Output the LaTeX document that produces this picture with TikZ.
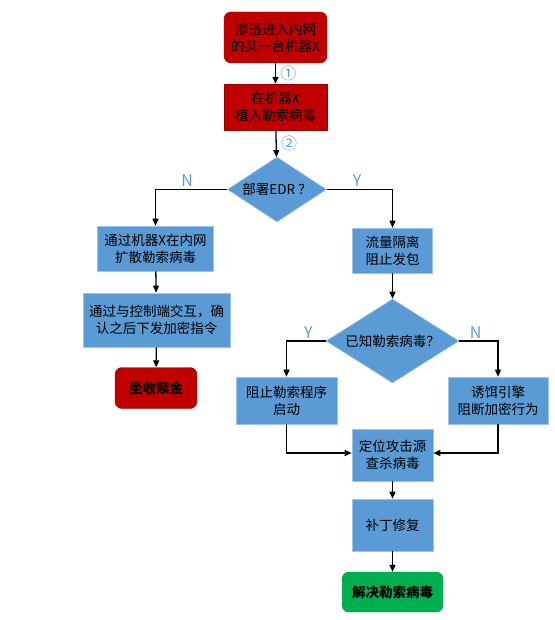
\documentclass[tikz,border=0pt]{standalone}
\usepackage{fontspec}
\setmainfont{Noto Sans CJK SC}
\usetikzlibrary{arrows.meta, positioning, shapes.geometric}

\definecolor{attackred}{HTML}{C00000}
\definecolor{procblue}{HTML}{5B9BD5}
\definecolor{edgeblue}{HTML}{9DC3E6}
\definecolor{okgreen}{HTML}{00B050}
\definecolor{tagblue}{HTML}{5B9BD5}

\begin{document}
\begin{tikzpicture}[
    x=1pt, y=-1pt,
    >={Triangle[length=7pt, width=6pt]},
    txt/.style={font=\fontsize{13.5}{17}\selectfont, align=center},
    proc/.style={txt, draw=edgeblue, line width=0.6pt, fill=procblue,
                 inner sep=0pt},
    attack/.style={txt, draw=attackred!80!black, fill=attackred,
                   inner sep=0pt},
    endbox/.style={txt, rounded corners=7pt, inner sep=0pt,
                   font=\fontsize{13.5}{17}\selectfont\bfseries},
    decision/.style={txt, diamond, draw=edgeblue, line width=0.6pt,
                     fill=procblue, inner sep=0pt},
    tag/.style={font=\fontsize{16}{18}\selectfont, text=tagblue},
    flow/.style={->, line width=1.3pt}
  ]
  \useasboundingbox (0,0) rectangle (554,620);

  % Attack steps
  \node[attack, rounded corners=7pt, minimum width=103pt,
        minimum height=51pt] (enter) at (275.5, 37.5)
        {渗透进入内网\\的某一台机器X};
  \node[attack, minimum width=103pt, minimum height=46pt]
        (plant) at (275.5, 107) {在机器X\\植入勒索病毒};

  % First decision
  \node[decision, minimum width=99pt, minimum height=65pt]
        (edr) at (277, 189.5) {\makebox[0pt]{部署EDR ？}};

  % No EDR branch
  \node[proc, minimum width=116pt, minimum height=45pt]
        (spread) at (155.5, 248.5) {通过机器X在内网\\扩散勒索病毒};
  \node[proc, minimum width=147pt, minimum height=54pt]
        (order) at (156.5, 320) {通过与控制端交互，确\\认之后下发加密指令};
  \node[endbox, fill=attackred, draw=attackred!80!black,
        minimum width=82pt, minimum height=41pt]
        (ransom) at (156, 388) {坐收赎金};

  % EDR branch
  \node[proc, minimum width=80pt, minimum height=45pt]
        (isolate) at (392.5, 250.5) {流量隔离\\阻止发包};
  \node[decision, minimum width=133pt, minimum height=84pt]
        (known) at (392.5, 341) {\makebox[0pt]{已知勒索病毒？}};
  \node[proc, minimum width=101pt, minimum height=47pt]
        (block) at (286.5, 400.5) {阻止勒索程序\\启动};
  \node[proc, minimum width=100pt, minimum height=47pt]
        (bait) at (498, 400.5) {诱饵引擎\\阻断加密行为};
  \node[proc, minimum width=81pt, minimum height=52pt]
        (locate) at (392.5, 455) {定位攻击源\\查杀病毒};
  \node[proc, minimum width=81pt, minimum height=52pt]
        (patch) at (392.5, 525) {补丁修复};
  \node[endbox, fill=okgreen, draw=okgreen!80!black,
        minimum width=101pt, minimum height=40pt]
        (solve) at (392.5, 592) {解决勒索病毒};

  % Connectors
  \draw[flow] (enter) -- (plant)
    node[tag, midway, right, xshift=1pt] {①};
  \draw[flow] (plant) -- (edr)
    node[tag, midway, right, xshift=1pt] {②};
  \draw[flow] (edr.west) -| (spread.north)
    node[tag, pos=0.28, above, yshift=-1pt] {N};
  \draw[flow] (edr.east) -| (isolate.north)
    node[tag, pos=0.23, above, yshift=-1pt] {Y};
  \draw[flow] (spread) -- (order);
  \draw[flow] (order) -- (ransom);
  \draw[flow] (isolate) -- (known);
  \draw[flow] (known.west) -| (block.north)
    node[tag, pos=0.22, above, yshift=-1pt] {Y};
  \draw[flow] (known.east) -| (bait.north)
    node[tag, pos=0.21, above, yshift=-1pt] {N};
  \draw[flow] (block.south) |- ([yshift=2pt]locate.west);
  \draw[flow] (bait.south) |- ([yshift=2pt]locate.east);
  \draw[flow] (locate) -- (patch);
  \draw[flow] (patch) -- (solve);
\end{tikzpicture}
\end{document}
